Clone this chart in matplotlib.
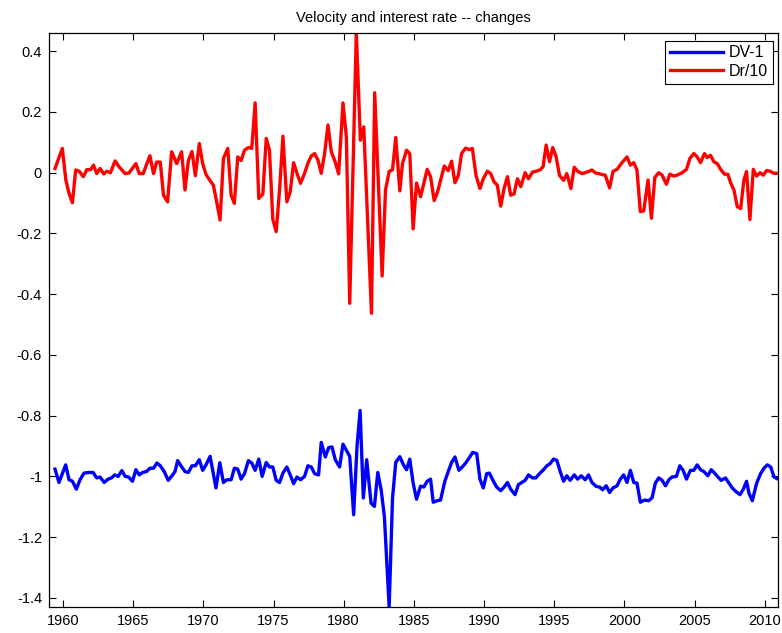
import numpy as np
import matplotlib
matplotlib.use('Agg')
import matplotlib.pyplot as plt

# Dr/10 : interest rate changes (scaled)
red_year = [1959.43, 1959.95, 1960.2, 1960.43, 1960.67, 1960.9, 1961.14, 1961.45, 1961.69, 1961.97,
            1962.17, 1962.4, 1962.64, 1962.9, 1963.14, 1963.38, 1963.71, 1964.0, 1964.43, 1964.7,
            1965.19, 1965.43, 1965.71, 1966.19, 1966.45, 1966.67, 1966.93, 1967.16, 1967.45, 1967.74,
            1968.1, 1968.45, 1968.69, 1968.93, 1969.19, 1969.43, 1969.71, 1969.95, 1970.19, 1970.43,
            1970.71, 1970.95, 1971.19, 1971.43, 1971.74, 1971.98, 1972.21, 1972.45, 1972.69, 1972.93,
            1973.21, 1973.45, 1973.69, 1973.95, 1974.24, 1974.48, 1974.71, 1974.95, 1975.19, 1975.43,
            1975.67, 1975.95, 1976.19, 1976.43, 1976.67, 1976.93, 1977.21, 1977.45, 1977.69, 1977.93,
            1978.17, 1978.4, 1978.64, 1978.88, 1979.12, 1979.4, 1979.64, 1979.95, 1980.19, 1980.43,
            1980.9, 1981.19, 1981.43, 1981.98, 1982.21, 1982.74, 1982.98, 1983.24, 1983.48, 1983.71,
            1984.0, 1984.19, 1984.48, 1984.71, 1984.95, 1985.19, 1985.48, 1985.71, 1985.95, 1986.19,
            1986.45, 1986.69, 1986.93, 1987.17, 1987.45, 1987.69, 1987.93, 1988.17, 1988.4, 1988.69,
            1988.93, 1989.17, 1989.43, 1989.71, 1989.95, 1990.24, 1990.48, 1990.71, 1990.95, 1991.19,
            1991.43, 1991.67, 1991.9, 1992.14, 1992.38, 1992.62, 1992.93, 1993.17, 1993.45, 1993.74,
            1994.02, 1994.21, 1994.43, 1994.67, 1994.9, 1995.14, 1995.38, 1995.67, 1995.9, 1996.19,
            1996.43, 1996.67, 1996.98, 1997.2, 1997.45, 1997.69, 1997.95, 1998.17, 1998.4, 1998.64,
            1998.95, 1999.19, 1999.48, 1999.83, 2000.19, 2000.43, 2000.67, 2000.9, 2001.14, 2001.38,
            2001.69, 2001.93, 2002.17, 2002.45, 2002.69, 2003.0, 2003.24, 2003.52, 2003.76, 2004.12,
            2004.43, 2004.67, 2004.95, 2005.19, 2005.43, 2005.71, 2005.9, 2006.14, 2006.38, 2006.62,
            2006.86, 2007.14, 2007.38, 2007.57, 2007.81, 2008.05, 2008.29, 2008.52, 2008.71, 2008.95,
            2009.19, 2009.43, 2009.67, 2009.9, 2010.14, 2010.38, 2010.67, 2010.95]
red_val = [0.014, 0.08, -0.024, -0.068, -0.099, 0.009, 0.005, -0.013, 0.01, 0.01,
           0.025, -0.003, 0.014, -0.004, 0.005, 0.0, 0.039, 0.019, -0.003, -0.001,
           0.03, -0.003, -0.003, 0.056, -0.003, 0.035, 0.035, -0.074, -0.096, 0.069,
           0.03, 0.069, -0.057, 0.04, 0.07, -0.01, 0.096, 0.03, -0.006, -0.023,
           -0.041, -0.096, -0.156, 0.047, 0.08, -0.074, -0.101, 0.052, 0.04, 0.074,
           0.083, 0.08, 0.23, -0.085, -0.07, 0.113, 0.074, -0.154, -0.194, -0.057,
           0.12, -0.096, -0.063, 0.033, -0.002, -0.035, -0.002, 0.031, 0.055, 0.063,
           0.041, -0.002, 0.063, 0.157, 0.068, 0.035, -0.004, 0.23, 0.118, -0.43,
           0.46, 0.107, 0.151, -0.463, 0.263, -0.34, -0.057, 0.004, 0.01, 0.116,
           -0.06, 0.03, 0.074, 0.063, -0.185, -0.034, -0.079, -0.035, 0.011, -0.013,
           -0.092, -0.063, -0.02, 0.022, 0.007, 0.038, -0.033, -0.009, 0.063, 0.081,
           0.076, 0.08, -0.009, -0.052, -0.02, 0.005, -0.003, -0.03, -0.041, -0.11,
           -0.052, -0.013, -0.074, -0.07, -0.02, -0.046, 0.0, -0.02, 0.002, 0.005,
           0.01, 0.02, 0.091, 0.036, 0.083, 0.052, -0.009, -0.025, -0.003, -0.052,
           0.018, 0.005, -0.003, 0.0, 0.004, 0.009, -0.001, -0.003, -0.006, -0.008,
           -0.05, 0.004, 0.011, 0.033, 0.052, 0.025, 0.033, 0.009, -0.128, -0.126,
           -0.024, -0.15, -0.016, 0.0, -0.008, -0.038, -0.005, -0.011, -0.008, 0.0,
           0.011, 0.047, 0.063, 0.052, 0.033, 0.063, 0.05, 0.057, 0.036, 0.03,
           0.011, -0.005, -0.005, -0.033, -0.057, -0.112, -0.118, -0.024, 0.004, -0.154,
           0.011, -0.011, 0.0, -0.008, 0.007, 0.005, -0.002, -0.002]

# DV-1 : velocity changes minus one
blue_year = [1959.43, 1959.71, 1960.19, 1960.43, 1960.67, 1960.95, 1961.21, 1961.5, 1961.86, 1962.14,
             1962.4, 1962.64, 1962.93, 1963.21, 1963.45, 1963.69, 1963.93, 1964.19, 1964.43, 1964.67,
             1964.95, 1965.19, 1965.43, 1965.67, 1965.95, 1966.19, 1966.45, 1966.69, 1966.93, 1967.21,
             1967.5, 1967.76, 1967.98, 1968.17, 1968.4, 1968.69, 1968.93, 1969.19, 1969.43, 1969.71,
             1969.95, 1970.19, 1970.48, 1970.9, 1971.17, 1971.43, 1971.67, 1971.98, 1972.21, 1972.45,
             1972.69, 1972.93, 1973.21, 1973.45, 1973.69, 1973.95, 1974.19, 1974.48, 1974.71, 1974.95,
             1975.19, 1975.43, 1975.67, 1975.95, 1976.19, 1976.43, 1976.67, 1976.93, 1977.21, 1977.45,
             1977.69, 1977.93, 1978.21, 1978.4, 1978.69, 1978.93, 1979.17, 1979.4, 1979.71, 1979.95,
             1980.19, 1980.43, 1980.71, 1980.95, 1981.17, 1981.4, 1981.64, 1981.95, 1982.19, 1982.43,
             1982.67, 1982.9, 1983.24, 1983.48, 1983.71, 1984.0, 1984.24, 1984.48, 1984.71, 1984.95,
             1985.19, 1985.48, 1985.71, 1985.95, 1986.19, 1986.38, 1986.67, 1986.9, 1987.21, 1987.45,
             1987.69, 1987.93, 1988.21, 1988.45, 1988.69, 1988.93, 1989.19, 1989.48, 1989.71, 1989.95,
             1990.19, 1990.38, 1990.67, 1990.9, 1991.19, 1991.43, 1991.67, 1991.9, 1992.21, 1992.45,
             1992.69, 1992.93, 1993.17, 1993.45, 1993.69, 1993.95, 1994.24, 1994.48, 1994.71, 1994.95,
             1995.19, 1995.43, 1995.67, 1995.9, 1996.14, 1996.43, 1996.67, 1996.93, 1997.21, 1997.45,
             1997.69, 1998.0, 1998.24, 1998.45, 1998.71, 1998.95, 1999.19, 1999.48, 1999.71, 1999.95,
             2000.19, 2000.43, 2000.67, 2000.9, 2001.14, 2001.43, 2001.74, 2001.98, 2002.21, 2002.45,
             2002.69, 2002.93, 2003.17, 2003.4, 2003.71, 2003.95, 2004.19, 2004.43, 2004.71, 2004.95,
             2005.19, 2005.43, 2005.67, 2005.95, 2006.19, 2006.43, 2006.67, 2006.9, 2007.21, 2007.45,
             2007.69, 2007.93, 2008.24, 2008.48, 2008.71, 2008.88, 2009.12, 2009.43, 2009.71, 2009.95,
             2010.19, 2010.43, 2010.67, 2010.95]
blue_val = [-0.976, -1.02, -0.962, -1.011, -1.016, -1.042, -1.011, -0.989, -0.987, -0.987,
            -1.005, -1.002, -1.02, -1.009, -1.005, -0.995, -1.0, -0.981, -1.0, -1.002,
            -1.016, -0.978, -0.995, -0.987, -0.984, -0.973, -0.973, -0.956, -0.965, -0.984,
            -1.013, -0.998, -0.984, -0.948, -0.965, -0.984, -0.987, -0.965, -0.965, -0.945,
            -0.98, -0.962, -0.934, -1.038, -0.955, -1.02, -1.011, -1.011, -0.973, -0.976,
            -1.009, -0.991, -0.948, -0.956, -0.98, -0.943, -1.0, -0.954, -0.969, -0.969,
            -1.013, -1.02, -0.989, -0.969, -0.995, -1.024, -1.002, -1.011, -1.0, -0.965,
            -0.969, -0.991, -0.995, -0.888, -0.936, -0.905, -0.903, -0.945, -0.969, -0.894,
            -0.914, -0.934, -1.126, -0.901, -0.783, -1.071, -0.945, -1.088, -1.099, -0.987,
            -1.044, -1.132, -1.43, -1.071, -0.954, -0.935, -0.96, -0.978, -0.943, -1.022,
            -1.075, -1.032, -1.035, -1.016, -1.009, -1.085, -1.08, -1.078, -1.016, -0.984,
            -0.954, -0.936, -0.98, -0.969, -0.956, -0.94, -0.921, -0.925, -1.009, -1.038,
            -0.991, -0.989, -1.016, -1.035, -1.047, -1.035, -1.02, -1.042, -1.06, -1.027,
            -1.02, -1.013, -0.995, -1.005, -1.005, -0.991, -0.978, -0.965, -0.958, -0.943,
            -0.947, -0.984, -1.016, -0.998, -1.013, -0.995, -1.009, -0.998, -1.011, -0.995,
            -1.02, -1.033, -1.035, -1.044, -1.031, -1.053, -1.038, -1.031, -1.009, -0.995,
            -1.02, -0.98, -1.02, -1.022, -1.085, -1.078, -1.08, -1.07, -1.022, -1.005,
            -1.013, -1.031, -1.011, -1.002, -1.0, -0.965, -0.98, -1.009, -0.98, -0.98,
            -0.962, -0.978, -0.984, -0.998, -0.978, -0.989, -1.002, -1.013, -1.005, -1.022,
            -1.038, -1.049, -1.06, -1.042, -1.016, -1.055, -1.08, -1.022, -0.991, -0.973,
            -0.962, -0.969, -1.002, -1.009]

x_ticks = [1960, 1965, 1970, 1975, 1980, 1985, 1990, 1995, 2000, 2005, 2010]
y_ticks = [0.4, 0.2, 0, -0.2, -0.4, -0.6, -0.8, -1, -1.2, -1.4]

plt.rcParams['font.family'] = ['Liberation Sans', 'DejaVu Sans']
plt.rcParams['axes.unicode_minus'] = False

fig = plt.figure(figsize=(7.82, 6.33), dpi=100)
ax = fig.add_axes([49 / 782, 26 / 633, 729 / 782, 574 / 633])

ax.plot(blue_year, blue_val, color='blue', linewidth=2.4, label='DV-1')
ax.plot(red_year, red_val, color='red', linewidth=2.4, label='Dr/10')

ax.set_xlim(1959.0, 2010.95)
ax.set_ylim(-1.43, 0.46)
ax.set_xticks(x_ticks)
ax.set_yticks(y_ticks)
ax.set_yticklabels(['%g' % v for v in y_ticks])
ax.tick_params(direction='in', top=True, right=True, length=5, width=0.8,
               labelsize=10.5, pad=5)
for sp in ax.spines.values():
    sp.set_linewidth(0.9)

ax.set_title('Velocity and interest rate -- changes', fontsize=10.5, pad=8)
leg = ax.legend(loc='upper right', bbox_to_anchor=(0.993, 0.9866), fancybox=False,
                edgecolor='black', framealpha=1, fontsize=11.5, handlelength=3.3,
                borderpad=0.3, labelspacing=0.22, handletextpad=0.4, borderaxespad=0)
leg.get_frame().set_linewidth(0.8)

plt.savefig('out.png', dpi=100)
